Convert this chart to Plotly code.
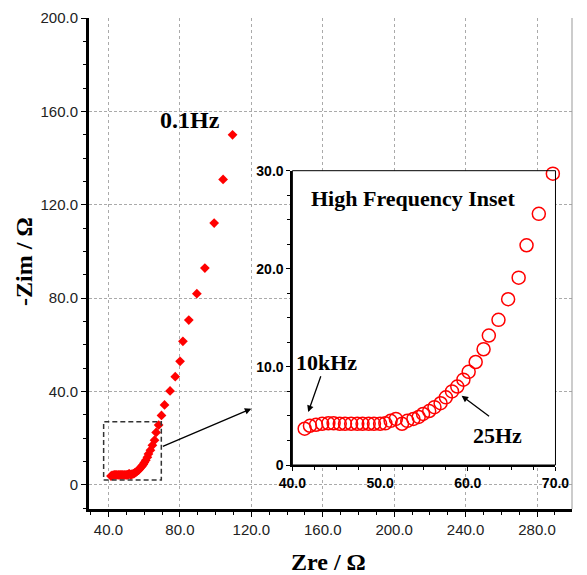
import plotly.graph_objects as go

# High-frequency region (shown in inset and in main plot)
zre_hf = [41.4, 42.0, 42.7, 43.4, 44.1, 44.7, 45.4, 46.0, 46.7, 47.4, 48.0, 48.7, 49.3, 50.0, 50.6,
          51.2, 51.8, 52.5, 53.1, 53.8, 54.4, 54.9, 55.6, 56.2, 56.9, 57.5, 58.2, 58.8, 59.5,
          60.1, 60.9, 61.8, 62.4, 63.5, 64.6, 65.8, 66.7, 68.1, 69.7]
zim_hf = [3.7, 4.0, 4.1, 4.2, 4.25, 4.25, 4.2, 4.2, 4.2, 4.2, 4.2, 4.2, 4.2, 4.2, 4.25,
          4.5, 4.7, 4.2, 4.5, 4.7, 4.9, 5.2, 5.5, 5.9, 6.3, 6.9, 7.5, 8.0, 8.7,
          9.5, 10.5, 11.8, 13.2, 14.8, 16.9, 19.1, 22.4, 25.6, 29.7]
# Low-frequency points (main plot only)
zre_lf = [71.4, 74.5, 77.4, 80.1, 81.7, 85.0, 89.5, 94.0, 99.2, 104.2, 109.5]
zim_lf = [34.2, 40.2, 46.3, 52.9, 61.5, 70.6, 81.9, 92.9, 112.2, 130.9, 150.0]

main_xticks = [40, 80, 120, 160, 200, 240, 280]
main_xticktext = ["40.0", "80.0", "120.0", "160.0", "200.0", "240.0", "280.0"]
main_yticks = [0, 40, 80, 120, 160, 200]
main_yticktext = ["0", "40.0", "80.0", "120.0", "160.0", "200.0"]
inset_xticks = [40, 50, 60, 70]
inset_xticktext = ["40.0", "50.0", "60.0", "70.0"]
inset_yticks = [0, 10, 20, 30]
inset_yticktext = ["0", "10.0", "20.0", "30.0"]

RED = "#ff0000"
GRID = "#aaaaaa"
SERIF = "Liberation Serif, Times New Roman, serif"
SANS = "Liberation Sans, Arial, sans-serif"

fig = go.Figure()
fig.add_trace(go.Scatter(x=zre_hf + zre_lf, y=zim_hf + zim_lf, mode="markers",
                         marker=dict(symbol="diamond", size=7.5, color=RED),
                         xaxis="x", yaxis="y", showlegend=False))
fig.add_trace(go.Scatter(x=zre_hf, y=zim_hf, mode="markers",
                         marker=dict(symbol="circle-open", size=13, color=RED,
                                     line=dict(width=1.5, color=RED)),
                         xaxis="x2", yaxis="y2", showlegend=False, cliponaxis=False))

fig.update_layout(
    width=587, height=575,
    margin=dict(l=89, r=1, t=18, b=66),
    paper_bgcolor="white", plot_bgcolor="white",
    xaxis=dict(range=[29.1, 299.6], tickmode="array", tickvals=main_xticks, ticktext=main_xticktext,
               showgrid=True, gridcolor=GRID, griddash="3px,3px", gridwidth=1,
               showline=True, linecolor="black", linewidth=3, zeroline=False,
               ticks="outside", ticklen=5, tickcolor="black", tickwidth=1,
               minor=dict(tickmode="linear", tick0=0, dtick=10, ticks="outside", ticklen=3,
                          tickcolor="black", showgrid=False),
               tickfont=dict(family=SANS, size=15, color="#222"), anchor="y"),
    yaxis=dict(range=[-10.4, 200.1], tickmode="array", tickvals=main_yticks, ticktext=main_yticktext,
               showgrid=True, gridcolor=GRID, griddash="3px,2px", gridwidth=1,
               showline=True, linecolor="black", linewidth=3, zeroline=False,
               ticks="outside", ticklen=5, tickcolor="black", tickwidth=1,
               minor=dict(tickmode="linear", tick0=0, dtick=10, ticks="outside", ticklen=3,
                          tickcolor="black", showgrid=False),
               tickfont=dict(family=SANS, size=15, color="#222"), anchor="x"),
    xaxis2=dict(domain=[0.4211, 0.9658], range=[40, 70], anchor="y2",
                tickmode="array", tickvals=inset_xticks, ticktext=inset_xticktext,
                showgrid=False, zeroline=False, showline=True, linecolor="black", linewidth=2,
                ticks="outside", ticklen=4, tickcolor="black",
                minor=dict(tickmode="linear", tick0=40, dtick=2.5, ticks="outside", ticklen=3,
                           tickcolor="black"),
                tickfont=dict(family=SANS, size=14, color="black", weight="bold")),
    yaxis2=dict(domain=[0.0896, 0.689], range=[0, 30], anchor="x2",
                tickmode="array", tickvals=inset_yticks, ticktext=inset_yticktext,
                showgrid=False, zeroline=False, showline=True, linecolor="black", linewidth=2,
                ticks="outside", ticklen=4, tickcolor="black",
                minor=dict(tickmode="linear", tick0=0, dtick=2.5, ticks="outside", ticklen=3,
                           tickcolor="black"),
                tickfont=dict(family=SANS, size=14, color="black", weight="bold")),
)

shapes = [
    # white backing of inset (hides main grid)
    dict(type="rect", xref="x2 domain", yref="y2 domain", x0=-0.1415, x1=1.066, y0=-0.092, y1=1.036,
         fillcolor="white", line=dict(width=0), layer="below"),
    # inset frame (top/right)
    dict(type="rect", xref="x2 domain", yref="y2 domain", x0=0, x1=1, y0=0, y1=1,
         line=dict(color="black", width=1), layer="above"),
    # zoom box in main plot
    dict(type="rect", xref="x", yref="y", x0=37.3, x1=69.6, y0=2.0, y1=27.0,
         line=dict(color="#333", width=1.5, dash="5px,3px")),
    # right border of main plot
    dict(type="line", xref="paper", yref="paper", x0=1, x1=1, y0=0, y1=1,
         line=dict(color="#999", width=1)),
]
fig.update_layout(shapes=shapes)

annotations = [
    dict(x=120, y=32.6, ax=69.6, ay=16.2, xref="x", yref="y", axref="x", ayref="y",
         text="", showarrow=True, arrowhead=2, arrowsize=1, arrowwidth=1.3, arrowcolor="black"),
    dict(x=85.9, y=156.3, xref="x", yref="y", text="<b>0.1Hz</b>", showarrow=False,
         xanchor="center", yanchor="middle",
         font=dict(family=SERIF, size=24, color="black")),
    dict(x=0.457, y=0.907, xref="x2 domain", yref="y2 domain", text="<b>High Frequency Inset</b>",
         showarrow=False, xanchor="center", yanchor="middle",
         font=dict(family=SERIF, size=22, color="black")),
    dict(x=43.9, y=10.5, xref="x2", yref="y2", text="<b>10kHz</b>", showarrow=False,
         xanchor="center", yanchor="middle",
         font=dict(family=SERIF, size=22, color="black")),
    dict(x=41.8, y=5.4, ax=43.3, ay=9.2, xref="x2", yref="y2", axref="x2", ayref="y2",
         text="", showarrow=True, arrowhead=2, arrowsize=1, arrowwidth=1.3, arrowcolor="black"),
    dict(x=63.4, y=3.05, xref="x2", yref="y2", text="<b>25Hz</b>", showarrow=False,
         xanchor="center", yanchor="middle",
         font=dict(family=SERIF, size=22, color="black")),
    dict(x=59.3, y=7.06, ax=62.6, ay=4.86, xref="x2", yref="y2", axref="x2", ayref="y2",
         text="", showarrow=True, arrowhead=2, arrowsize=1, arrowwidth=1.3, arrowcolor="black"),
    dict(x=-0.1348, y=0.505, xref="paper", yref="paper", text="<b>-Zim / Ω</b>", textangle=-90,
         xanchor="center", yanchor="middle",
         showarrow=False, font=dict(family=SERIF, size=24, color="black")),
    dict(x=0.495, y=-0.108, xref="paper", yref="paper", text="<b>Zre / Ω</b>",
         xanchor="center", yanchor="middle",
         showarrow=False, font=dict(family=SERIF, size=24, color="black")),
]
fig.update_layout(annotations=annotations)

fig.write_html("out.html")
